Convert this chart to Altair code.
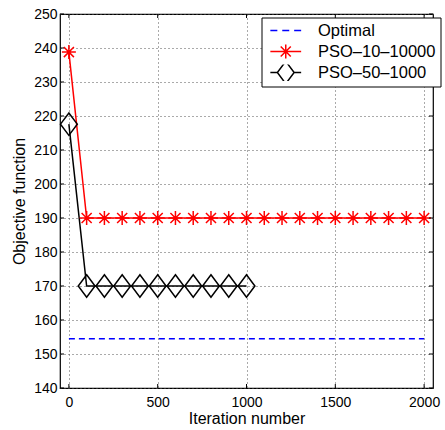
import altair as alt
import pandas as pd

series_names = ["Optimal", "PSO–10–10000", "PSO–50–1000"]
series_colors = ["#0000ff", "#ff0000", "#000000"]

optimal_x = [0, 2000]
optimal_y = [154.5, 154.5]

pso10_x = [0, 100, 200, 300, 400, 500, 600, 700, 800, 900, 1000,
           1100, 1200, 1300, 1400, 1500, 1600, 1700, 1800, 1900, 2000]
pso10_y = [238.8, 190, 190, 190, 190, 190, 190, 190, 190, 190, 190,
           190, 190, 190, 190, 190, 190, 190, 190, 190, 190]

pso50_x = [0, 100, 200, 300, 400, 500, 600, 700, 800, 900, 1000]
pso50_y = [217.6, 170, 170, 170, 170, 170, 170, 170, 170, 170, 170]

x_ticks = [0, 500, 1000, 1500, 2000]
y_ticks = [140, 150, 160, 170, 180, 190, 200, 210, 220, 230, 240, 250]

W, H = 373, 374
TICK = 4

STAR = "M-1,0L1,0M0,-1L0,1M-0.72,-0.72L0.72,0.72M-0.72,0.72L0.72,-0.72"
DIAMOND = "M0,-1.6L1.2,0L0,1.6L-1.2,0Z"
LEG_OPT = "M-2.2,0L-1.2,0M-0.5,0L0.5,0M1.2,0L2.2,0"
LEG_STAR = "M-2.2,0L2.2,0" + STAR
LEG_DIA = "M-2.2,0L-1.2,0M1.2,0L2.2,0" + DIAMOND

frames = []
for name, xs, ys in [(series_names[0], optimal_x, optimal_y),
                     (series_names[1], pso10_x, pso10_y),
                     (series_names[2], pso50_x, pso50_y)]:
    frames.append(pd.DataFrame({"x": xs, "y": ys, "series": name}))
df = pd.concat(frames, ignore_index=True)

FONT = "Liberation Sans"

xscale = alt.Scale(domain=[-50, 2050], nice=False, zero=False)
yscale = alt.Scale(domain=[140, 250], nice=False, zero=False)
xaxis = alt.Axis(values=x_ticks, title="Iteration number", format="d")
yaxis = alt.Axis(values=y_ticks, title="Objective function", format="d")
xenc = alt.X("x:Q", scale=xscale, axis=xaxis)
yenc = alt.Y("y:Q", scale=yscale, axis=yaxis)

base = alt.Chart(df).encode(x=xenc, y=yenc)

opt_line = base.transform_filter(alt.datum.series == series_names[0]).mark_line(
    color=series_colors[0], strokeDash=[6, 4], strokeWidth=1.5)
red_line = base.transform_filter(alt.datum.series == series_names[1]).mark_line(
    color=series_colors[1], strokeWidth=1.5)
black_line = base.transform_filter(alt.datum.series == series_names[2]).mark_line(
    color=series_colors[2], strokeWidth=1.5)
red_pts = base.transform_filter(alt.datum.series == series_names[1]).mark_point(
    shape=STAR, size=196, color=series_colors[1], filled=False, strokeWidth=1.5, opacity=1)
black_pts = base.transform_filter(alt.datum.series == series_names[2]).mark_point(
    shape=DIAMOND, size=196, color=series_colors[2], filled=False, strokeWidth=1.5, opacity=1)

legend_layer = base.transform_filter("false").mark_point(
    filled=False, size=196, strokeWidth=1.5, opacity=1).encode(
    color=alt.Color("series:N", title=None,
                    scale=alt.Scale(domain=series_names, range=series_colors),
                    legend=alt.Legend(orient="none", legendX=201.5, legendY=3.5)),
    shape=alt.Shape("series:N", title=None,
                    scale=alt.Scale(domain=series_names, range=[LEG_OPT, LEG_STAR, LEG_DIA])),
)

# inward tick marks on all four sides (MATLAB style box)
xt = pd.DataFrame({"x": x_ticks})
yt = pd.DataFrame({"y": y_ticks})
xtick_b = alt.Chart(xt).mark_rule(color="black", strokeWidth=1).encode(
    x=alt.X("x:Q", scale=xscale, axis=xaxis), y=alt.value(H), y2=alt.value(H - TICK))
xtick_t = alt.Chart(xt).mark_rule(color="black", strokeWidth=1).encode(
    x=alt.X("x:Q", scale=xscale, axis=xaxis), y=alt.value(0), y2=alt.value(TICK))
ytick_l = alt.Chart(yt).mark_rule(color="black", strokeWidth=1).encode(
    y=alt.Y("y:Q", scale=yscale, axis=yaxis), x=alt.value(0), x2=alt.value(TICK))
ytick_r = alt.Chart(yt).mark_rule(color="black", strokeWidth=1).encode(
    y=alt.Y("y:Q", scale=yscale, axis=yaxis), x=alt.value(W), x2=alt.value(W - TICK))

chart = alt.layer(opt_line, red_line, black_line, red_pts, black_pts,
                  xtick_b, xtick_t, ytick_l, ytick_r, legend_layer).properties(
    width=W, height=H,
    autosize=alt.AutoSizeParams(type="none"),
    padding={"left": 60, "top": 14, "right": 12, "bottom": 42},
).configure_view(
    stroke="black", strokeWidth=1.2
).configure_axis(
    labelFont=FONT, labelFontSize=14, labelColor="black",
    titleFont=FONT, titleFontSize=16, titleFontWeight="normal", titleColor="black",
    domain=False, tickSize=0, labelOverlap=False,
    grid=True, gridColor="#555555", gridDash=[1, 3], gridWidth=1, gridOpacity=1,
).configure_axisY(
    labelPadding=3, titlePadding=6,
).configure_axisX(
    labelPadding=7, titlePadding=1,
).configure_legend(
    labelFont=FONT, labelFontSize=16.5, labelColor="black",
    strokeColor="black", fillColor="white", padding=5, cornerRadius=0,
    symbolStrokeWidth=1.5, symbolSize=196, symbolOffset=11, labelOffset=24,
    rowPadding=4, columnPadding=0, clipHeight=16, symbolOpacity=1,
)

chart.save("out.html", embed_options={"renderer": "svg", "actions": False})
